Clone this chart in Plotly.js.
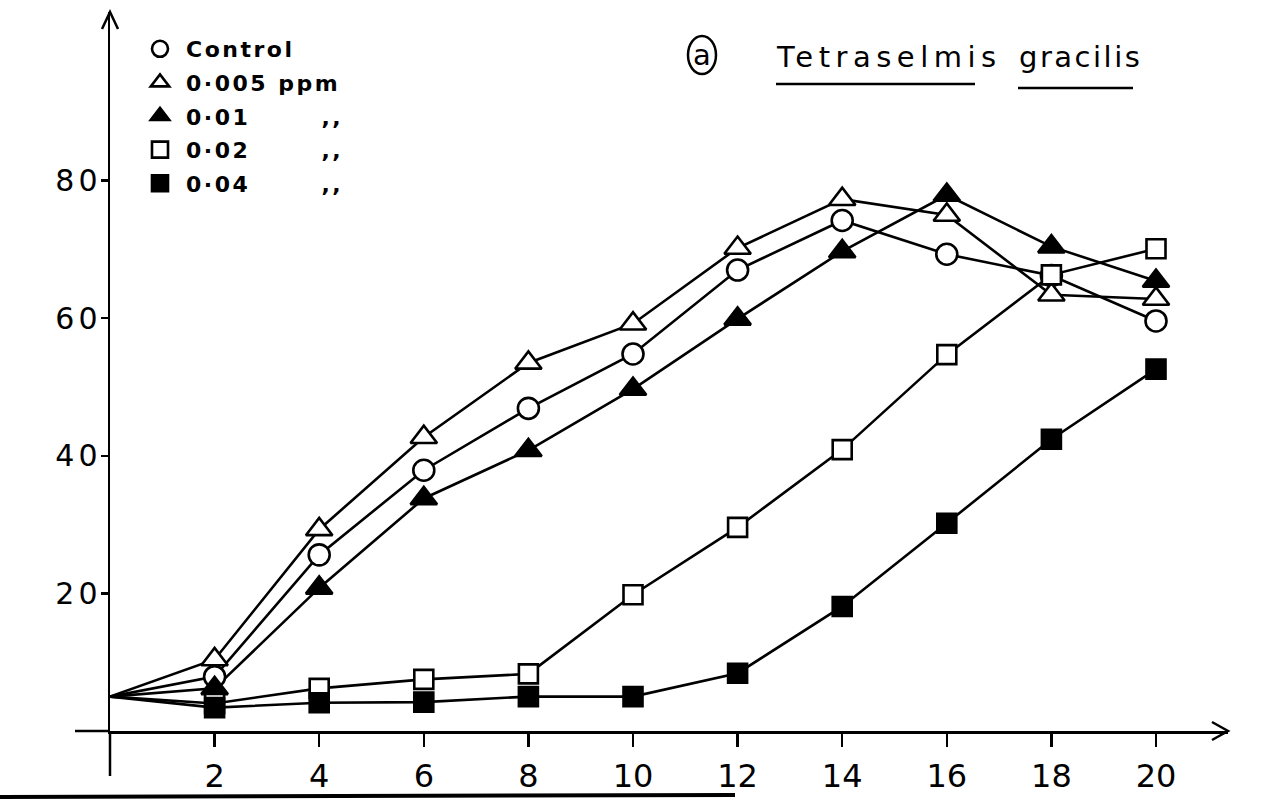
<!DOCTYPE html>
<html>
<head>
<meta charset="utf-8">
<script src="https://cdn.plot.ly/plotly-3.0.1.min.js"></script>
<style>html,body{margin:0;padding:0;background:#fff;}#chart{width:1272px;height:804px;}</style>
</head>
<body>
<div id="chart"></div>
<script>
// ---- data ----
const days = [0, 2, 4, 6, 8, 10, 12, 14, 16, 18, 20];
const control = [5, 7.9, 25.6, 37.9, 46.9, 54.8, 67.0, 74.2, 69.3, 66.2, 59.6];
const ppm005  = [5, 10.4, 29.3, 42.7, 53.5, 59.2, 70.2, 77.3, 75.0, 63.4, 62.8];
const ppm01   = [5, 6.2, 20.8, 33.8, 40.8, 49.7, 59.9, 69.7, 77.9, 70.4, 65.4];
const ppm02   = [5, 4.0, 6.2, 7.5, 8.3, 19.8, 29.6, 40.9, 54.7, 66.3, 70.1];
const ppm04   = [5, 3.4, 4.1, 4.2, 5.0, 5.0, 8.4, 18.1, 30.2, 42.4, 52.6];
const seriesNames = ["Control", "0·005 ppm", "0·01", "0·02", "0·04"];
const yTicks = [20, 40, 60, 80];
const xTicks = [2, 4, 6, 8, 10, 12, 14, 16, 18, 20];

// ---- geometry helpers (pixel -> paper) ----
const W = 1272, H = 804, L = 110, R = 44, T = 12, B = 73;
const pw = W - L - R, ph = H - T - B;
const px = v => (v - L) / pw;
const py = v => (H - B - v) / ph;
const XPX = 52.3, YPX = 6.88;

const styles = [
  {symbol: "circle", color: "#fff", size: 21},
  {symbol: "triangle-up", color: "#fff", size: 23},
  {symbol: "triangle-up", color: "#000", size: 23},
  {symbol: "square", color: "#fff", size: 19},
  {symbol: "square", color: "#000", size: 19}
];
const allSeries = [control, ppm005, ppm01, ppm02, ppm04];
const ditto = "\u00a0\u00a0\u00a0\u00a0\u00a0\u00a0\u00a0,,";
const legendText = [
  seriesNames[0],
  seriesNames[1],
  seriesNames[2] + ditto,
  seriesNames[3] + ditto,
  seriesNames[4] + ditto
];

const traces = [];
allSeries.forEach((s, i) => {
  traces.push({
    x: days, y: s, mode: "lines", type: "scatter",
    line: {color: "#000", width: 2.6},
    showlegend: false, hoverinfo: "skip"
  });
});
allSeries.forEach((s, i) => {
  traces.push({
    x: days.slice(1), y: s.slice(1), mode: "markers", type: "scatter",
    name: '<span style="letter-spacing:2.5px">' + legendText[i] + '</span>',
    legendgroup: "g" + i,
    marker: {symbol: styles[i].symbol, color: styles[i].color, size: styles[i].size,
             line: {color: "#000", width: 2.6}}
  });
});

const line = (x0, y0, x1, y1, w) => ({type: "line", xref: "paper", yref: "paper",
  x0: px(x0), y0: py(y0), x1: px(x1), y1: py(y1), line: {color: "#000", width: w || 2.5}});
const path = (pts, w) => ({type: "path", xref: "paper", yref: "paper",
  path: pts.map((p, k) => (k ? "L" : "M") + px(p[0]) + "," + py(p[1])).join(" "),
  line: {color: "#000", width: w || 2.5}});

const shapes = [
  line(75, 731, 110, 731),
  line(110, 731, 110, 776),
  path([[1212, 722], [1228, 731], [1212, 740]]),
  path([[102, 29], [110, 12], [118, 29]]),
  line(0, 797, 735, 795, 4),
  {type: "circle", xref: "paper", yref: "paper", x0: px(688), x1: px(716), y0: py(36), y1: py(74),
   line: {color: "#000", width: 2.5}},
  line(776, 84, 975, 84, 2.5),
  line(1018, 88, 1133, 88, 2.5)
];

const annFont = {family: "DejaVu Sans", size: 29, color: "#000"};
const annotations = [
  {xref: "paper", yref: "paper", x: px(702), y: py(55), text: "a", showarrow: false,
   xanchor: "center", yanchor: "middle", font: annFont},
  {xref: "paper", yref: "paper", x: px(774), y: py(57), showarrow: false,
   text: '<span style="letter-spacing:5.5px">Tetraselmis</span>',
   xanchor: "left", yanchor: "middle", font: annFont},
  {xref: "paper", yref: "paper", x: px(1017), y: py(57), showarrow: false,
   text: '<span style="letter-spacing:2.5px">gracilis</span>',
   xanchor: "left", yanchor: "middle", font: annFont}
];

const layout = {
  width: W, height: H,
  margin: {l: L, r: R, t: T, b: B, pad: 0},
  paper_bgcolor: "#fff", plot_bgcolor: "#fff",
  showlegend: true,
  legend: {x: px(134), y: py(28), xanchor: "left", yanchor: "top",
           font: {family: "DejaVu Sans", size: 22, color: "#000", weight: "bold"},
           tracegroupgap: 2, itemwidth: 42, bgcolor: "rgba(0,0,0,0)", borderwidth: 0},
  xaxis: {range: [0, pw / XPX], showgrid: false, zeroline: false,
          showline: true, linecolor: "#000", linewidth: 2.5,
          ticks: "outside", ticklen: 13, tickwidth: 2.5, tickcolor: "#000",
          tickvals: xTicks, ticktext: xTicks.map(String), ticklabelstandoff: 2,
          tickfont: {family: "DejaVu Sans", size: 32, color: "#000"}, fixedrange: true},
  yaxis: {range: [0, ph / YPX], showgrid: false, zeroline: false,
          showline: true, linecolor: "#000", linewidth: 2.5,
          ticks: "outside", ticklen: 7, tickwidth: 2.5, tickcolor: "#000",
          tickvals: yTicks,
          ticktext: yTicks.map(v => { const s = String(v);
            return '<span style="letter-spacing:4px">' + s.slice(0, 1) + '</span>' + s.slice(1); }),
          ticklabelstandoff: -3,
          tickfont: {family: "DejaVu Sans", size: 30, color: "#000"}, fixedrange: true},
  shapes: shapes,
  annotations: annotations
};

Plotly.newPlot("chart", traces, layout, {displayModeBar: false, staticPlot: true});
</script>
</body>
</html>
